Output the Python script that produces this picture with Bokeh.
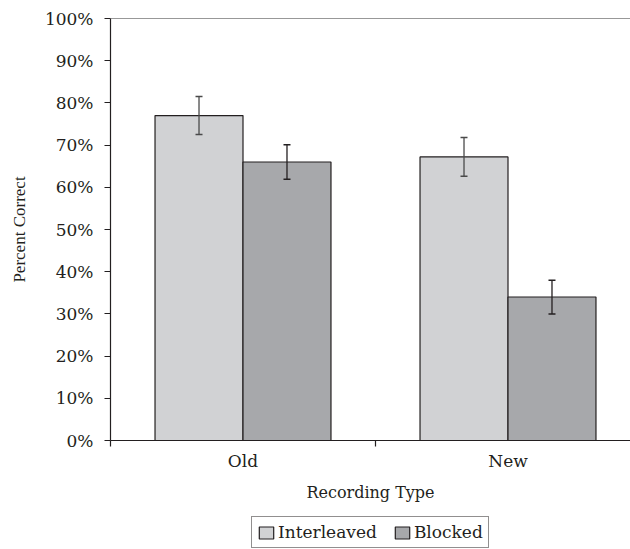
import numpy as np
from bokeh.plotting import figure
from bokeh.layouts import column
from bokeh.models import (ColumnDataSource, Range1d, FixedTicker, Whisker, TeeHead,
                          Span, Legend, LegendItem)
from bokeh.embed import file_html
from bokeh.resources import INLINE

categories = ["Old", "New"]
interleaved = [77, 67.2]
interleaved_err = [4.5, 4.6]
blocked = [66, 34]
blocked_err = [4.1, 4.0]
series_names = ["Interleaved", "Blocked"]
y_ticks = [0, 10, 20, 30, 40, 50, 60, 70, 80, 90, 100]

FONT = "DejaVu Serif"
TXT = "#231f20"
C_INT = "#d1d2d4"
C_BLK = "#a7a8ab"
OFF = 0.166
BW = 0.332

idx = np.arange(len(categories))
centers = idx + 0.5

p = figure(width=630, height=510, output_backend="svg", toolbar_location=None,
           x_range=Range1d(0, 520 / 265), y_range=Range1d(0, 100),
           min_border_left=110, min_border_right=0, min_border_top=18,
           min_border_bottom=70)
p.outline_line_color = None
p.grid.visible = False
p.background_fill_color = "white"

src_i = ColumnDataSource(dict(x=centers - OFF, top=interleaved,
                              upper=np.array(interleaved) + np.array(interleaved_err),
                              lower=np.array(interleaved) - np.array(interleaved_err)))
src_b = ColumnDataSource(dict(x=centers + OFF, top=blocked,
                              upper=np.array(blocked) + np.array(blocked_err),
                              lower=np.array(blocked) - np.array(blocked_err)))

p.vbar(x="x", top="top", width=BW, source=src_i, fill_color=C_INT,
       line_color=TXT, line_width=1.2)
p.vbar(x="x", top="top", width=BW, source=src_b, fill_color=C_BLK,
       line_color=TXT, line_width=1.2)

for src, col in ((src_i, "#4a4a4a"), (src_b, "#231f20")):
    w = Whisker(base="x", upper="upper", lower="lower", source=src, level="overlay",
                line_color=col, line_width=1.3,
                upper_head=TeeHead(size=7, line_color=col, line_width=1.5),
                lower_head=TeeHead(size=7, line_color=col, line_width=1.5))
    p.add_layout(w)

p.add_layout(Span(location=100, dimension="width", line_color="#333333", line_width=1.2))

# y axis
ya = p.yaxis[0]
ya.ticker = FixedTicker(ticks=y_ticks, minor_ticks=[])
ya.major_label_overrides = {t: f"{t}%" for t in y_ticks}
ya.major_tick_in = 0
ya.major_tick_out = 6
ya.major_label_standoff = 11
ya.axis_label = "Percent Correct"
ya.axis_label_standoff = 13
for a in (ya, p.xaxis[0]):
    a.axis_line_color = TXT
    a.axis_line_width = 1.2
    a.major_tick_line_color = TXT
    a.major_tick_line_width = 1.2
    a.major_label_text_font = FONT
    a.major_label_text_font_size = "17px"
    a.major_label_text_color = TXT
    a.axis_label_text_font = FONT
    a.axis_label_text_font_style = "normal"
    a.axis_label_text_color = TXT
ya.axis_label_text_font = "Liberation Serif"
ya.axis_label_text_font_size = "17px"
p.xaxis[0].axis_label_text_font_size = "16px"

# x axis
xa = p.xaxis[0]
xa.ticker = FixedTicker(ticks=list(centers), minor_ticks=list(range(len(categories) + 1)))
xa.major_label_overrides = {float(c): name for c, name in zip(centers, categories)}
xa.major_tick_line_color = None
xa.minor_tick_line_color = TXT
xa.minor_tick_line_width = 1.2
xa.minor_tick_in = 0
xa.minor_tick_out = 6
xa.major_label_standoff = 4
xa.axis_label = "Recording Type"
xa.axis_label_standoff = 9

# legend strip below the chart (bars of the same sources, kept far out of its view)
lg = figure(width=630, height=39, output_backend="svg", toolbar_location=None,
            x_range=Range1d(500, 501), y_range=Range1d(5000, 5001),
            x_axis_location=None, y_axis_location=None,
            min_border_left=0, min_border_right=0, min_border_top=0, min_border_bottom=0)
lg.grid.visible = False
lg.outline_line_color = None
e1 = lg.vbar(x="x", top="top", width=BW, source=src_i, fill_color=C_INT,
             line_color=TXT, line_width=1.2)
e2 = lg.vbar(x="x", top="top", width=BW, source=src_b, fill_color=C_BLK,
             line_color=TXT, line_width=1.2)
legend = Legend(items=[LegendItem(label=series_names[0], renderers=[e1]),
                       LegendItem(label=series_names[1], renderers=[e2])],
                orientation="horizontal", location=(141, 1),
                border_line_color=TXT, border_line_width=1.2,
                padding=5, spacing=16, glyph_height=15, glyph_width=18,
                label_standoff=3, label_text_font=FONT, label_text_font_size="17px",
                label_text_color=TXT, margin=0)
lg.add_layout(legend, "center")

layout = column(p, lg, spacing=0)
open("out.html", "w").write(file_html(layout, INLINE))
